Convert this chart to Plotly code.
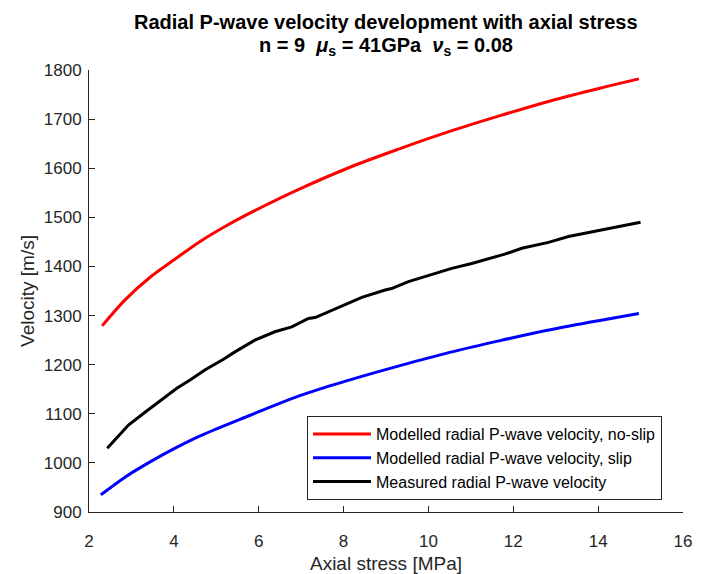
import plotly.graph_objects as go

# Axial stress [MPa] and velocity [m/s]
x_noslip = [2.31, 2.85, 3.44, 4.03, 4.62, 5.30, 6.03, 6.97, 8.15, 9.33, 10.50, 11.69, 12.87, 14.04, 14.96]
v_noslip = [1279, 1332, 1378, 1415, 1451, 1486, 1519, 1558, 1602, 1640, 1675, 1707, 1737, 1763, 1782]

x_slip = [2.28, 2.85, 3.44, 4.03, 4.62, 5.80, 6.97, 8.15, 9.33, 10.50, 11.69, 12.87, 14.04, 14.96]
v_slip = [935, 971, 1002, 1030, 1055, 1097, 1137, 1169, 1198, 1225, 1249, 1271, 1290, 1304]

x_meas = [2.43, 2.93, 3.32, 3.60, 4.07, 4.40, 4.73, 5.17, 5.44, 5.91, 6.38, 6.78, 7.17, 7.33,
          7.72, 8.11, 8.43, 8.98, 9.13, 9.53, 10.15, 10.55, 11.02, 11.41, 11.80, 12.20,
          12.83, 13.30, 13.93, 14.32, 14.91, 15.00]
v_meas = [1030, 1077, 1103, 1121, 1152, 1170, 1189, 1211, 1226, 1250, 1267, 1277, 1294, 1296,
          1311, 1325, 1337, 1352, 1355, 1369, 1386, 1396, 1406, 1415, 1425, 1437,
          1449, 1461, 1472, 1479, 1489, 1490]

x_ticks = [2, 4, 6, 8, 10, 12, 14, 16]
y_ticks = [900, 1000, 1100, 1200, 1300, 1400, 1500, 1600, 1700, 1800]

title_line1 = "Radial P-wave velocity development with axial stress"
title_line2 = "n = 9  <i>μ</i><sub>s</sub> = 41GPa  <i>ν</i><sub>s</sub> = 0.08"

FONT = "Liberation Sans, Arial, Helvetica, sans-serif"
AX = "#262626"

fig = go.Figure()
fig.add_trace(go.Scatter(x=x_noslip, y=v_noslip, mode="lines", line=dict(color="#ff0000", width=3, shape="spline"),
                         name="Modelled radial P-wave velocity, no-slip"))
fig.add_trace(go.Scatter(x=x_slip, y=v_slip, mode="lines", line=dict(color="#0000ff", width=3, shape="spline"),
                         name="Modelled radial P-wave velocity, slip"))
fig.add_trace(go.Scatter(x=x_meas, y=v_meas, mode="lines", line=dict(color="#000000", width=3),
                         name="Measured radial P-wave velocity"))

PLOT_TOP, PLOT_BOTTOM = 70, 512


def ypaper(py):
    return (PLOT_BOTTOM - py) / (PLOT_BOTTOM - PLOT_TOP)


fig.add_annotation(text="<b>" + title_line1 + "</b>", x=0.5, y=ypaper(22), xref="paper", yref="paper",
                   xanchor="center", yanchor="middle", showarrow=False,
                   font=dict(family=FONT, size=20, color="black"))
fig.add_annotation(text="<b>" + title_line2 + "</b>", x=0.5, y=ypaper(47), xref="paper", yref="paper",
                   xanchor="center", yanchor="middle", showarrow=False,
                   font=dict(family=FONT, size=20, color="black"))

fig.update_layout(
    width=705, height=574,
    margin=dict(l=89, r=22, t=PLOT_TOP, b=574 - PLOT_BOTTOM, autoexpand=False),
    paper_bgcolor="white", plot_bgcolor="white",
    font=dict(family=FONT, size=17, color=AX),
    xaxis=dict(range=[2, 16], tickvals=x_ticks, ticktext=[str(t) for t in x_ticks],
               showline=True, linecolor=AX, linewidth=1, ticks="inside", ticklen=6,
               tickcolor=AX, showgrid=False, zeroline=False, mirror=False, automargin=False,
               ticklabelstandoff=14,
               title=dict(text="Axial stress [MPa]", font=dict(size=19, color=AX), standoff=8)),
    yaxis=dict(range=[900, 1800], tickvals=y_ticks, ticktext=[str(t) for t in y_ticks],
               showline=True, linecolor=AX, linewidth=1, ticks="inside", ticklen=6,
               tickcolor=AX, showgrid=False, zeroline=False, mirror=False, automargin=False,
               ticklabelstandoff=3,
               title=dict(text="Velocity [m/s]", font=dict(size=19, color=AX), standoff=4)),
    legend=dict(x=(307 - 89) / 594, y=ypaper(416), xanchor="left", yanchor="top",
                bgcolor="white", bordercolor=AX, borderwidth=1,
                font=dict(family=FONT, size=16, color="black"),
                itemwidth=58, tracegroupgap=0),
    showlegend=True,
)

fig.write_html("out.html")
